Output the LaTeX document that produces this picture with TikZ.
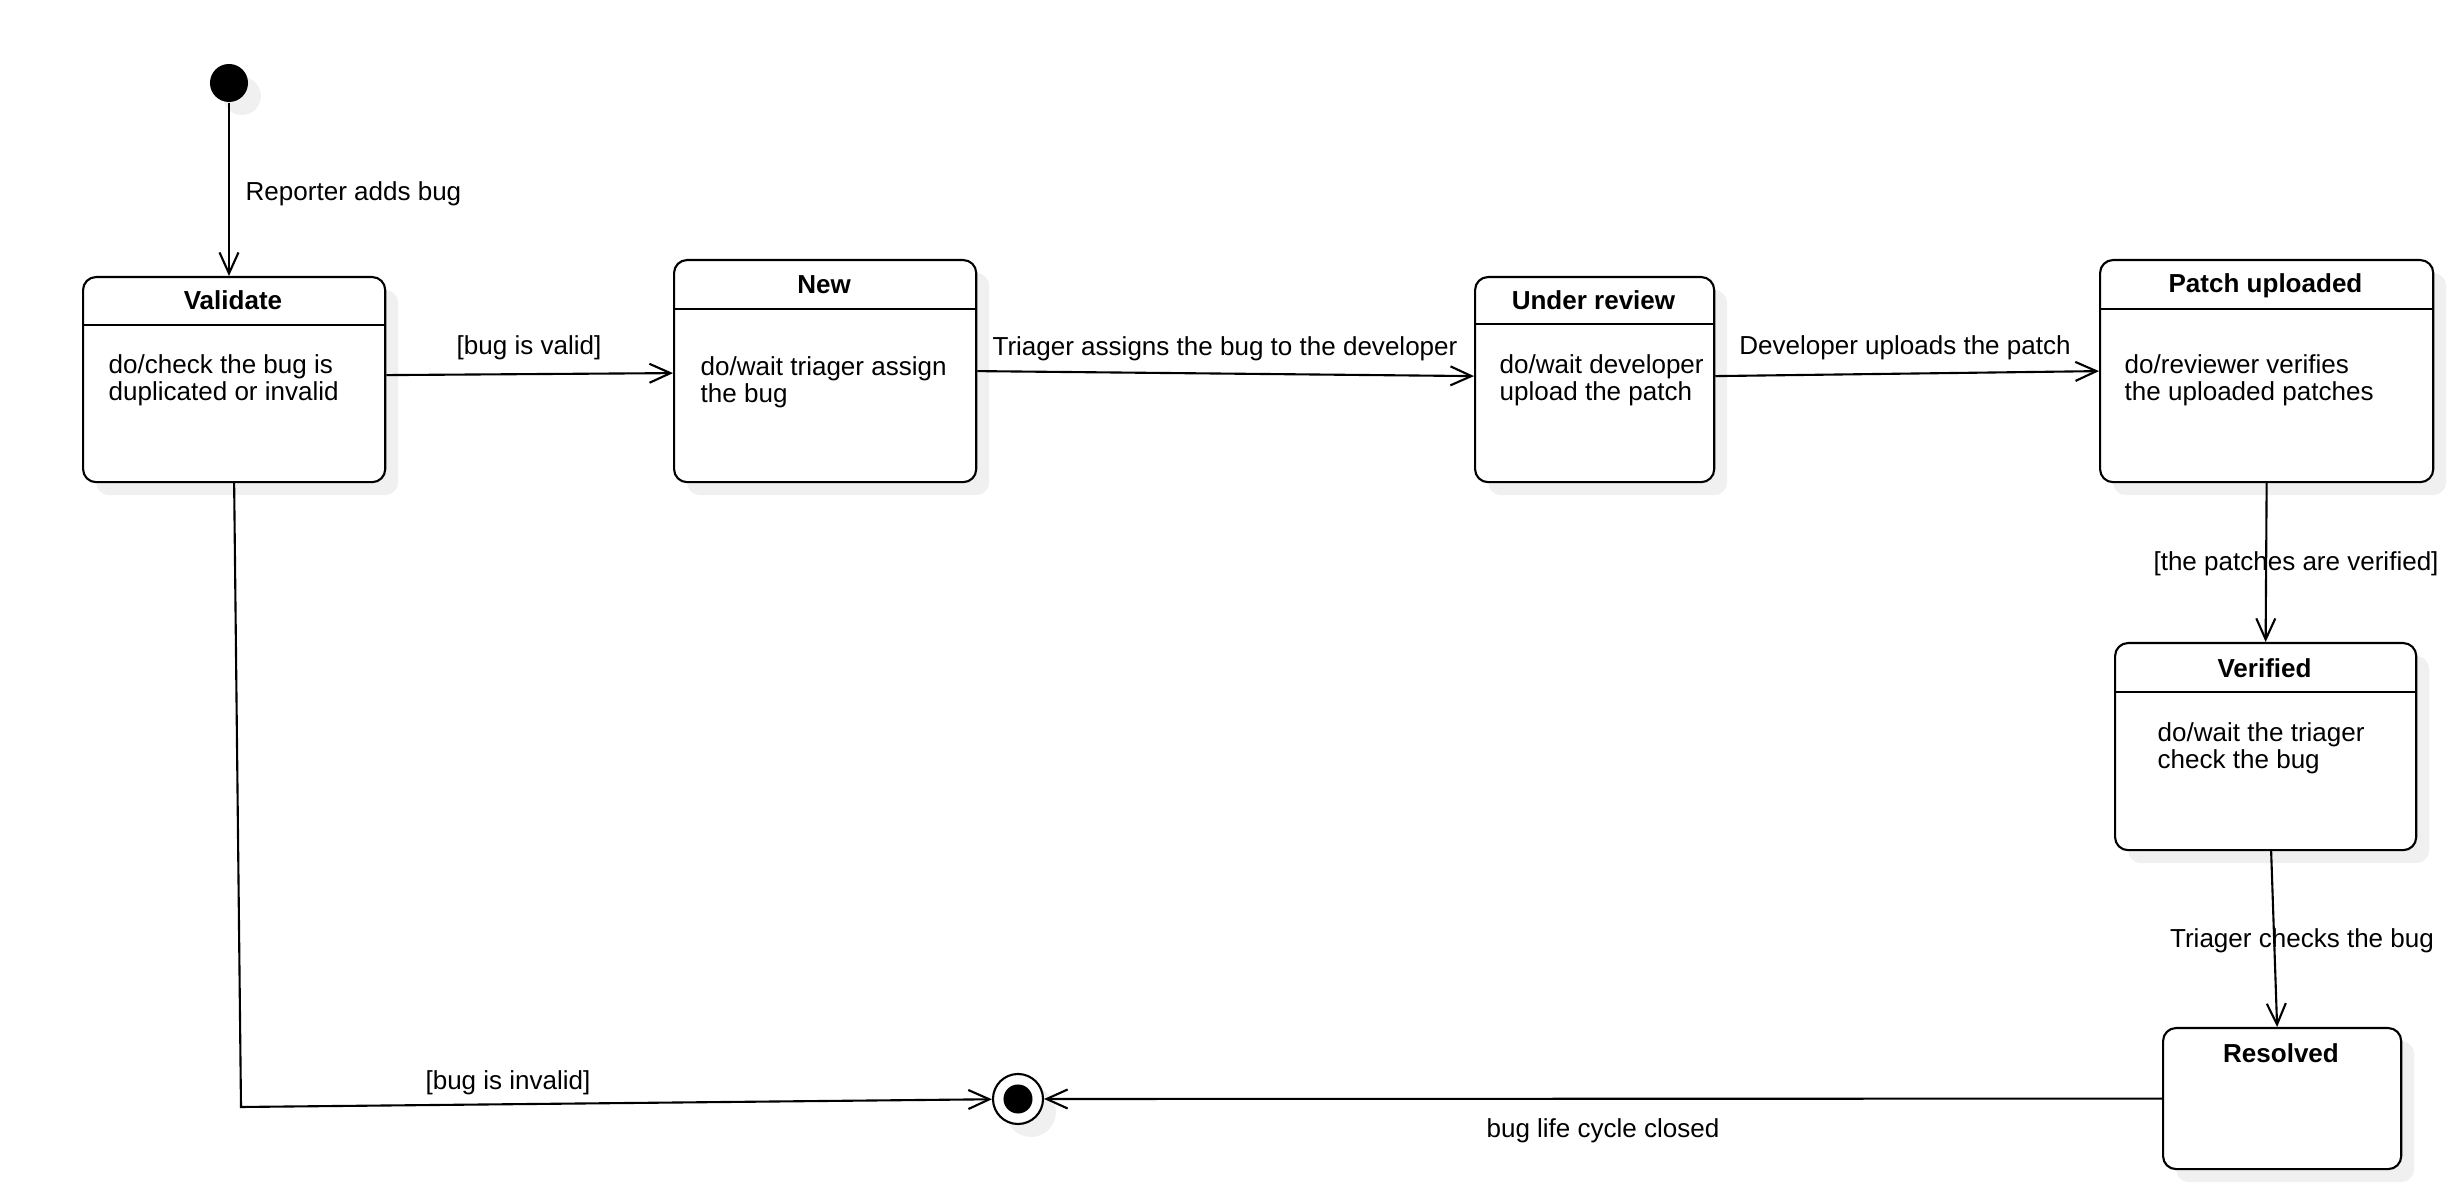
\documentclass[tikz,border=0pt]{standalone}
\usepackage{fontspec}
\setmainfont{Liberation Sans}
\usetikzlibrary{arrows.meta,shadows,calc}
\begin{document}
\begin{tikzpicture}[x=0.01cm,y=-0.01cm,
  font=\fontsize{7.4pt}{7.7pt}\selectfont,
  lw/.style={line width=0.6pt},
  shad/.style={general shadow={fill=black!6, shadow xshift=0.13cm, shadow yshift=-0.13cm}},
  statebox/.style={draw, lw, rounded corners=0.13cm, fill=white, anchor=north west, inner sep=0pt, shad},
  stitle/.style={font=\fontsize{7.4pt}{7.7pt}\selectfont\bfseries, inner sep=0pt},
  sbody/.style={align=left, anchor=west, inner sep=0pt},
  lbl/.style={inner sep=0pt},
  trans/.style={draw, lw, -{Straight Barb[length=0.21cm,width=0.19cm]}},
]
\useasboundingbox (0,0) rectangle (2456,1204);

% initial state
\node[circle, fill=black, minimum size=0.38cm, inner sep=0pt, shad] (init) at (229,83) {};

% states
\node[statebox, minimum width=3.02cm, minimum height=2.05cm] (validate) at (82,276) {};
\draw[lw] ($(validate.north west)+(0,49)$) -- ($(validate.north east)+(0,49)$);
\node[stitle] (validateT) at (233,300) {Validate};
\node[sbody] (validateB) at (108,380) {do/check the bug is\\duplicated or invalid};

\node[statebox, minimum width=3.02cm, minimum height=2.22cm] (new) at (673,259) {};
\draw[lw] ($(new.north west)+(0,50)$) -- ($(new.north east)+(0,50)$);
\node[stitle] (newT) at (824,285) {New};
\node[sbody] (newB) at (700,382) {do/wait triager assign\\the bug};

\node[statebox, minimum width=2.39cm, minimum height=2.05cm] (review) at (1474,276) {};
\draw[lw] ($(review.north west)+(0,48)$) -- ($(review.north east)+(0,48)$);
\node[stitle] (reviewT) at (1593.5,300) {Under review};
\node[sbody] (reviewB) at (1499,380) {do/wait developer\\upload the patch};

\node[statebox, minimum width=3.33cm, minimum height=2.22cm] (patch) at (2099,259) {};
\draw[lw] ($(patch.north west)+(0,50)$) -- ($(patch.north east)+(0,50)$);
\node[stitle] (patchT) at (2265.5,286) {Patch uploaded};
\node[sbody] (patchB) at (2124,380) {do/reviewer verifies\\the uploaded patches};

\node[statebox, minimum width=3.01cm, minimum height=2.07cm] (verified) at (2114,642) {};
\draw[lw] ($(verified.north west)+(0,50)$) -- ($(verified.north east)+(0,50)$);
\node[stitle] (verifiedT) at (2264.5,668) {Verified};
\node[sbody] (verifiedB) at (2157,748) {do/wait the triager\\check the bug};

\node[statebox, minimum width=2.38cm, minimum height=1.41cm] (resolved) at (2162,1027) {};
\node[stitle] (resolvedT) at (2281,1053) {Resolved};

% final state
\node[circle, draw, lw, fill=white, minimum size=0.5cm, inner sep=0pt, shad] (final) at (1018,1099) {};
\node[circle, fill=black, minimum size=0.29cm, inner sep=0pt] (finalin) at (final) {};

% transitions
\draw[trans] (init.south) -- (init.south |- validate.north);
\node[lbl, anchor=west] (l1) at (245,194) {Reporter adds bug};

\draw[trans] ([yshift=0.045cm]validate.east) -- ([yshift=-0.02cm]new.west);
\node[lbl] (l2) at (529,348) {[bug is valid]};

\draw[trans] (new.east) -- ([yshift=0.035cm]review.west);
\node[lbl] (l3) at (1225,349) {Triager assigns the bug to the developer};

\draw[trans] ([yshift=0.035cm]review.east) -- (patch.west);
\node[lbl] (l4) at (1905,348) {Developer uploads the patch};

\draw[trans] (patch.south) -- (verified.north);
\node[lbl] (l5) at (2296,564) {[the patches are verified]};

\draw[trans] ([xshift=0.055cm]verified.south) -- ([xshift=-0.05cm]resolved.north);
\node[lbl] (l6) at (2302,941) {Triager checks the bug};

\draw[trans] (resolved.west) -- (final);
\node[lbl] (l7) at (1603,1131) {bug life cycle closed};

\coordinate (vbend) at (241,1107);
\draw[trans] (validate.south) -- (vbend) -- (final);
\node[lbl] (l8) at (508,1083) {[bug is invalid]};

\end{tikzpicture}
\end{document}
